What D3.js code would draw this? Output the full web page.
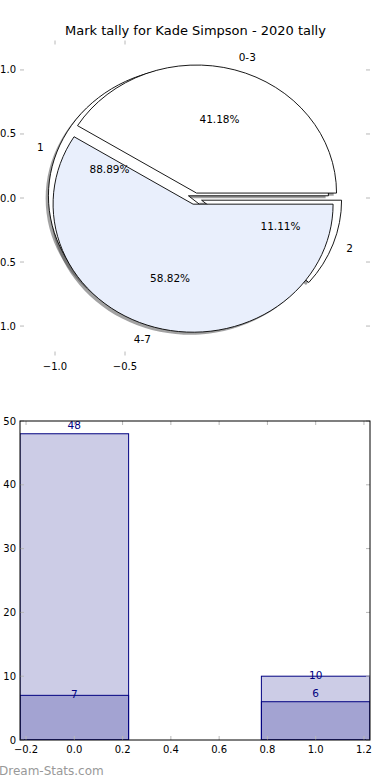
<!DOCTYPE html>
<html>
<head>
<meta charset="utf-8">
<script src="https://cdnjs.cloudflare.com/ajax/libs/d3/7.8.5/d3.min.js"></script>
<style>
  html, body { margin: 0; padding: 0; background: #fff; }
  svg { display: block; font-family: "DejaVu Sans", sans-serif; }
</style>
</head>
<body>
<script>
// ---------------- data ----------------
const title = "Mark tally for Kade Simpson - 2020 tally";
const pieOuterLabels = ["1", "2"];
const pieOuterValues = [48, 6];
const pieInnerLabels = ["0-3", "4-7"];
const pieInnerValues = [7, 10];
const pieYTicks = [1.0, 0.5, 0.0, -0.5, -1.0];
const pieXTicks = [-1.0, -0.5];

const barCategories = [0, 1];
const barSeriesA = [48, 10];
const barSeriesB = [7, 6];
const barXTicks = [-0.2, 0.0, 0.2, 0.4, 0.6, 0.8, 1.0, 1.2];
const barYTicks = [0, 10, 20, 30, 40, 50];
const watermark = "Dream-Stats.com";

// ---------------- setup ----------------
const W = 390, H = 780;
const svg = d3.select("body").append("svg").attr("width", W).attr("height", H);
const tickColor = "#b8b8b8";
const fmt1 = d3.format(".1f");

// ---------- top: pies ----------
const pL = 20, pR = 370, pT = 40.5, pB = 355.5;
const xP = d3.scaleLinear().domain([-1.25, 1.25]).range([pL, pR]);
const yP = d3.scaleLinear().domain([-1.23, 1.23]).range([pB, pT]);
const rx = xP(1) - xP(0), ry = yP(0) - yP(1);

svg.append("text").attr("x", W / 2 + 0.5).attr("y", 35).attr("text-anchor", "middle")
  .attr("font-size", 13).attr("fill", "#000").text(title);

// ticks (no spines)
const gpt = svg.append("g");
pieYTicks.forEach(v => {
  gpt.append("line").attr("x1", pL).attr("x2", pL + 4).attr("y1", yP(v)).attr("y2", yP(v)).attr("stroke", tickColor);
  gpt.append("line").attr("x1", pR - 4).attr("x2", pR).attr("y1", yP(v)).attr("y2", yP(v)).attr("stroke", tickColor);
  gpt.append("text").attr("x", pL - 4).attr("y", yP(v)).attr("dy", "0.35em").attr("text-anchor", "end")
    .attr("font-size", 10).text(fmt1(v));
});
pieXTicks.forEach(v => {
  gpt.append("line").attr("x1", xP(v)).attr("x2", xP(v)).attr("y1", pT).attr("y2", pT + 4).attr("stroke", tickColor);
  gpt.append("line").attr("x1", xP(v)).attr("x2", xP(v)).attr("y1", pB - 4).attr("y2", pB).attr("stroke", tickColor);
  gpt.append("text").attr("x", xP(v)).attr("y", pB + 14).attr("text-anchor", "middle")
    .attr("font-size", 10).text(fmt1(v));
});

function buildWedges(values, labels, colors, explode) {
  const total = d3.sum(values);
  let cum = 0;
  return values.map((v, i) => {
    const a0 = cum / total * 2 * Math.PI;
    cum += v;
    const a1 = cum / total * 2 * Math.PI;
    const mid = (a0 + a1) / 2;
    const cx = explode[i] * Math.cos(mid), cy = explode[i] * Math.sin(mid);
    return { a0, a1, mid, cx, cy, label: labels[i], pct: v / total * 100, color: colors[i] };
  });
}
function wedgePath(w, dx = 0, dy = 0) {
  const X = t => xP(t) + dx, Y = t => yP(t) + dy;
  const x0 = X(w.cx + Math.cos(w.a0)), y0 = Y(w.cy + Math.sin(w.a0));
  const x1 = X(w.cx + Math.cos(w.a1)), y1 = Y(w.cy + Math.sin(w.a1));
  const large = (w.a1 - w.a0) > Math.PI ? 1 : 0;
  return `M${X(w.cx)},${Y(w.cy)}L${x0},${y0}A${rx},${ry} 0 ${large} 0 ${x1},${y1}Z`;
}

const outer = buildWedges(pieOuterValues, pieOuterLabels, ["#ffffff", "#ffffff"], [0.05, 0.05]);
const inner = buildWedges(pieInnerValues, pieInnerLabels, ["#ffffff", "#e9effc"], [0.04, 0.05]);

const defs = svg.append("defs");
defs.append("filter").attr("id", "blur").attr("x", "-10%").attr("y", "-10%").attr("width", "120%").attr("height", "120%")
  .append("feGaussianBlur").attr("stdDeviation", 0.7);

const sdx = xP(-0.02) - xP(0), sdy = yP(-0.02) - yP(0);
const gPie = svg.append("g");
[...outer, ...inner].forEach(w => {
  gPie.append("path").attr("d", wedgePath(w, sdx, sdy))
    .attr("fill", "rgba(70,70,72,0.5)").attr("filter", "url(#blur)");
});
[...outer, ...inner].forEach(w => {
  gPie.append("path").attr("d", wedgePath(w))
    .attr("fill", w.color).attr("stroke", "#000").attr("stroke-width", 0.9).attr("stroke-linejoin", "miter");
});
[...outer, ...inner].forEach(w => {
  const lx = w.cx + 1.1 * Math.cos(w.mid), ly = w.cy + 1.1 * Math.sin(w.mid);
  gPie.append("text").attr("x", xP(lx)).attr("y", yP(ly)).attr("dy", "0.35em")
    .attr("text-anchor", lx > 0 ? "start" : "end").attr("font-size", 10.5).text(w.label);
  const px = w.cx + 0.6 * Math.cos(w.mid), py = w.cy + 0.6 * Math.sin(w.mid);
  gPie.append("text").attr("x", xP(px)).attr("y", yP(py)).attr("dy", "0.35em")
    .attr("text-anchor", "middle").attr("font-size", 10.5).text(d3.format(".2f")(w.pct) + "%");
});

// ---------- bottom: bars ----------
const bL = 20, bR = 370, bT = 421, bB = 740;
const barWidth = 0.45;
const xB = d3.scaleLinear().domain([-0.225, 1.225]).range([bL, bR]);
const yB = d3.scaleLinear().domain([0, 50]).range([bB, bT]);
const navy = "#000080";

defs.append("clipPath").attr("id", "barclip").append("rect")
  .attr("x", bL).attr("y", bT).attr("width", bR - bL).attr("height", bB - bT);

const gBar = svg.append("g").attr("clip-path", "url(#barclip)");
[barSeriesA, barSeriesB].forEach(series => {
  gBar.selectAll(null).data(series).enter().append("rect")
    .attr("x", (d, i) => xB(barCategories[i] - barWidth / 2))
    .attr("width", xB(barWidth) - xB(0))
    .attr("y", d => yB(d))
    .attr("height", d => yB(0) - yB(d))
    .attr("fill", navy).attr("fill-opacity", 0.2)
    .attr("stroke", navy).attr("stroke-width", 1);
});

// value labels
const labelAnchor = [["bottom", "center"], ["center", "bottom"]]; // [series][category]
[barSeriesA, barSeriesB].forEach((series, s) => {
  series.forEach((d, i) => {
    const va = labelAnchor[s][i];
    svg.append("text").attr("x", xB(barCategories[i])).attr("y", yB(d))
      .attr("dy", va === "bottom" ? "-0.45em" : "0.3em")
      .attr("text-anchor", "middle").attr("font-size", 10.5).attr("fill", navy).text(d);
  });
});

// axes ticks (inside, grey)
const gAx = svg.append("g");
barXTicks.forEach(v => {
  gAx.append("line").attr("x1", xB(v)).attr("x2", xB(v)).attr("y1", bB).attr("y2", bB - 4).attr("stroke", tickColor);
  gAx.append("line").attr("x1", xB(v)).attr("x2", xB(v)).attr("y1", bT).attr("y2", bT + 4).attr("stroke", tickColor);
  gAx.append("text").attr("x", xB(v)).attr("y", bB + 13).attr("text-anchor", "middle")
    .attr("font-size", 10).text(fmt1(v));
});
barYTicks.forEach(v => {
  gAx.append("line").attr("x1", bL).attr("x2", bL + 4).attr("y1", yB(v)).attr("y2", yB(v)).attr("stroke", tickColor);
  gAx.append("line").attr("x1", bR - 4).attr("x2", bR).attr("y1", yB(v)).attr("y2", yB(v)).attr("stroke", tickColor);
  gAx.append("text").attr("x", bL - 4).attr("y", yB(v)).attr("dy", "0.35em").attr("text-anchor", "end")
    .attr("font-size", 10).text(v);
});
gAx.append("rect").attr("x", bL).attr("y", bT).attr("width", bR - bL).attr("height", bB - bT)
  .attr("fill", "none").attr("stroke", "#000").attr("stroke-width", 1);

svg.append("text").attr("x", -1).attr("y", 775).attr("font-size", 12).attr("fill", "#999")
  .text(watermark);
</script>
</body>
</html>
